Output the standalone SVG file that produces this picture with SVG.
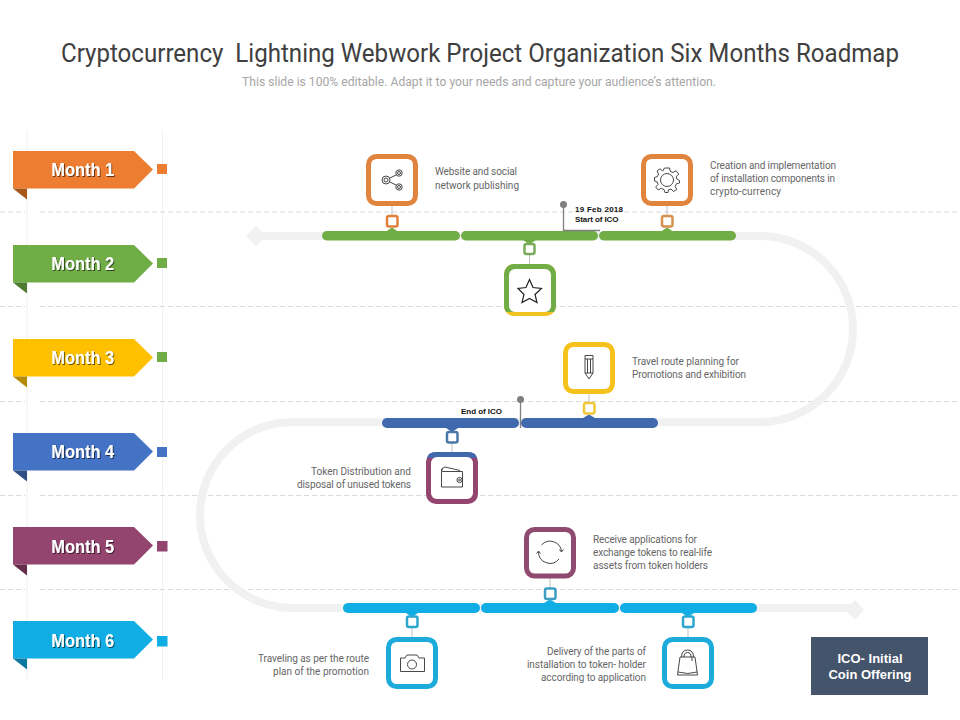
<svg xmlns="http://www.w3.org/2000/svg" width="960" height="720" viewBox="0 0 960 720">
<style>
.guide{stroke:#d9d9d9;stroke-width:1;stroke-dasharray:5 3;fill:none}
.vline{stroke:#f0f0f0;stroke-width:1;fill:none}
.road{stroke:#f1f1f1;stroke-width:8;fill:none}
.month{font:bold 18px "Liberation Sans",Arial,sans-serif;fill:#fff;text-anchor:middle;filter:url(#sh)}
.body{font:10px Roboto,"Liberation Sans",sans-serif;fill:#666}
.end{text-anchor:end}
.date{font:bold 8px "Liberation Sans",Arial,sans-serif;fill:#111}
.box{fill:#fff;stroke-width:5}
.sq{fill:#fff;stroke-width:2.5}
.link{stroke:#bfbfbf;stroke-width:1}
.ico{fill:none;stroke:#333;stroke-width:.9}
.pin{stroke:#7f7f7f;stroke-width:1.3;fill:none}
</style>
<defs>
<filter id="sh" x="-20%" y="-20%" width="140%" height="140%"><feDropShadow dx="1" dy="1" stdDeviation=".6" flood-color="#000" flood-opacity=".6"/></filter>
<path id="flag" d="M13 0H134L153 18.500L134 37.500H13Z"/>
<path id="fold" d="M13 37.500H27V48.500Z"/>
</defs>
<rect width="960" height="720" fill="#fff"/>
<g id="title">
<text x="480" y="62" text-anchor="middle" textLength="838" lengthAdjust="spacingAndGlyphs" style="font:25px Roboto,'Liberation Sans',sans-serif;fill:#404040;white-space:pre">Cryptocurrency  Lightning Webwork Project Organization Six Months Roadmap</text>
<text x="479" y="86" text-anchor="middle" textLength="474" lengthAdjust="spacingAndGlyphs" style="font:12px Roboto,'Liberation Sans',sans-serif;fill:#a6a6a6">This slide is 100% editable. Adapt it to your needs and capture your audience’s attention.</text>
</g>
<g id="guides">
<path class="vline" d="M27 130V680M162.500 130V680"/>
<path class="guide" d="M0 212H25M40 212H960M0 306.500H25M40 306.500H960M0 401.500H25M40 401.500H960M0 495.500H25M40 495.500H960M0 589.500H25M40 589.500H960"/>
</g>
<g id="connectors">
<path class="road" d="M258 236H760A93 93 0 0 1 760 422H293A93 93 0 0 0 293 608H853"/>
<path d="M246 236L256 226L266 236L256 246Z" fill="#f1f1f1"/>
<path d="M845 610L855 600L864 610L855 620Z" fill="#f1f1f1"/>
<path class="link" d="M392 206V216M529.500 254V264M667 206V216M589 394V403M452 442V452M550 578V588M412 627V637M688 627V637"/>
<g fill="#70ad47">
<rect x="322" y="231" width="138" height="9.500" rx="4.700"/>
<rect x="461" y="231" width="137" height="9.500" rx="4.700"/>
<rect x="599" y="231" width="137" height="9.500" rx="4.700"/>
<path d="M386 231.500L392 227.500L398 231.500ZM523 240L529.500 244.500L536 240ZM661 231.500L667 227.500L673 231.500Z"/>
</g>
<g fill="#4169ae">
<rect x="382" y="418" width="137" height="10" rx="5"/>
<rect x="521" y="418" width="137" height="10" rx="5"/>
<path d="M446 428L452 432L458 428ZM583 418L589 414.500L595 418Z"/>
</g>
<g fill="#10aee4">
<rect x="343" y="603" width="137" height="10" rx="5"/>
<rect x="481" y="603" width="138" height="10" rx="5"/>
<rect x="620" y="603" width="137" height="10" rx="5"/>
<path d="M544 603L550 599.500L556 603ZM406 613L412 617L418 613ZM682 613L688 617L694 613Z"/>
</g>
</g>
<g id="month1" transform="translate(0,151)"><use href="#flag" fill="#ed7d31"/><use href="#fold" fill="#a9561b"/><rect x="157" y="13" width="10" height="10" fill="#ed7d31"/><text class="month" x="82.700" y="25" textLength="63" lengthAdjust="spacingAndGlyphs">Month 1</text></g>
<g id="month2" transform="translate(0,245)"><use href="#flag" fill="#70ad47"/><use href="#fold" fill="#4f7a32"/><rect x="157" y="13" width="10" height="10" fill="#70ad47"/><text class="month" x="82.700" y="25" textLength="63" lengthAdjust="spacingAndGlyphs">Month 2</text></g>
<g id="month3" transform="translate(0,339)"><use href="#flag" fill="#ffc000"/><use href="#fold" fill="#b58a0b"/><rect x="157" y="13" width="10" height="10" fill="#70ad47"/><text class="month" x="82.700" y="25" textLength="63" lengthAdjust="spacingAndGlyphs">Month 3</text></g>
<g id="month4" transform="translate(0,433)"><use href="#flag" fill="#4472c4"/><use href="#fold" fill="#2f4f86"/><rect x="157" y="14" width="10" height="10" fill="#4472c4"/><text class="month" x="82.700" y="25" textLength="63" lengthAdjust="spacingAndGlyphs">Month 4</text></g>
<g id="month5" transform="translate(0,527)"><use href="#flag" fill="#93446f"/><use href="#fold" fill="#642d4b"/><rect x="157" y="14" width="10.500" height="10.500" fill="#93446f"/><text class="month" x="82.700" y="25.500" textLength="63" lengthAdjust="spacingAndGlyphs">Month 5</text></g>
<g id="month6" transform="translate(0,621)"><use href="#flag" fill="#10aee4"/><use href="#fold" fill="#0b78a0"/><rect x="157" y="15" width="10.500" height="10.500" fill="#10aee4"/><text class="month" x="82.700" y="25.500" textLength="63" lengthAdjust="spacingAndGlyphs">Month 6</text></g>

<g id="node-share">
<rect class="sq" x="387" y="216" width="10.500" height="10.500" rx="2" stroke="#e0803a"/>
<rect class="box" x="368.500" y="156.500" width="47" height="47" rx="8" stroke="#e0843e"/>
<g class="ico"><circle cx="386" cy="180" r="4"/><circle cx="386" cy="180" r="2"/><circle cx="399" cy="173" r="3.200"/><circle cx="399" cy="173" r="1.500"/><circle cx="399" cy="187" r="3.200"/><circle cx="399" cy="187" r="1.500"/><path d="M390 178L396 175M390 182L396 185"/></g>
<text class="body" x="435" y="175" textLength="82">Website and social</text><text class="body" x="435" y="188.500" textLength="84">network publishing</text>
</g>
<g id="node-gear">
<rect class="sq" x="662" y="216" width="10.500" height="10.500" rx="2" stroke="#d9924e"/>
<rect class="box" x="643.500" y="156.500" width="47" height="47" rx="8" stroke="#e0843e"/>
<g class="ico" transform="translate(667,180)"><circle r="6.500"/><path d="M-2.500-12H2.500L3.300-8.600L6-7.500L9-9.300L11.800-5.800L9.300-3.500L9.800-1L12.500 0.500V3L9.400 3.800L8.200 6.600L9.800 9.400L6.500 11.500L4 9L1.500 9.800L1 12.500H-2L-3 9.500L-5.800 8.300L-8.800 10L-11.300 7L-9 4.500L-9.700 2L-12.500 1V-2.500L-9.500-3.500L-8.500-6L-10-9L-7-11.200L-4.300-9Z"/></g>
<text class="body" x="710" y="168.500" textLength="126">Creation and implementation</text><text class="body" x="710" y="181.500" textLength="125">of installation components in</text><text class="body" x="710" y="194.500" textLength="71">crypto-currency</text>
</g>
<g id="node-star">
<rect class="sq" x="524.500" y="244" width="10" height="10" rx="2" stroke="#7aab5a"/>
<rect x="504" y="264" width="52" height="52" rx="10" fill="#f2c21f"/>
<path d="M514 264H546A10 10 0 0 1 556 274V306Q556 309 554 312H506Q504 309 504 306V274A10 10 0 0 1 514 264Z" fill="#70ad47"/>
<rect x="509" y="269" width="42" height="43" rx="6" fill="#fff"/>
<path class="ico" d="M529.500 279.500L533 287.500L541.500 288.500L535 294.500L537 302.500L529.500 298.500L522 302.500L524 294.500L518 288.500L526 287.500Z" style="stroke-width:1.200;stroke:#222"/>
</g>
<g id="ico-start">
<path class="pin" d="M563.500 205V230.500H600"/><circle cx="563.500" cy="204.500" r="3.500" fill="#7f7f7f"/>
<text class="date" x="575" y="211.500" textLength="48">19 Feb 2018</text><text class="date" x="575" y="222" textLength="43.500">Start of ICO</text>
</g>
<g id="node-pencil">
<rect class="sq" x="584" y="403" width="10.500" height="10.500" rx="2" stroke="#f0c93a"/>
<rect class="box" x="565.500" y="344.500" width="47" height="47" rx="8" stroke="#f5c21b"/>
<g class="ico"><path d="M585 355.500H593V373L589 379L585 373ZM585 359H593M585 373H593M587.500 359V373M590.500 359V373"/></g>
<text class="body" x="632" y="364.500" textLength="107">Travel route planning for</text><text class="body" x="632" y="377.500" textLength="114">Promotions and exhibition</text>
</g>
<g id="ico-end">
<path class="pin" d="M520.500 400V428"/><circle cx="520.500" cy="399.500" r="3.500" fill="#7f7f7f"/>
<text class="date" x="461" y="414" textLength="41">End of ICO</text>
</g>
<g id="node-wallet">
<rect class="sq" x="447" y="432" width="10.500" height="10.500" rx="2" stroke="#4a79a8"/>
<rect x="426" y="452" width="52" height="52" rx="10" fill="#93446f"/>
<path d="M427 458Q428 452 436 452H468Q476 452 477 458Z" fill="#4169ae"/>
<rect x="431" y="457" width="42" height="42" rx="6" fill="#fff"/>
<g class="ico"><path d="M441.500 472V487H462.500V471.500H441.500L442 468.500L445 467L460 470.500M441.500 471Q441 469 443 469"/><circle cx="459.500" cy="480" r="2.600"/><circle cx="459.500" cy="480" r=".9"/></g>
<text class="body end" x="411" y="474.500" textLength="100">Token Distribution and</text><text class="body end" x="411" y="487.500" textLength="114">disposal of unused tokens</text>
</g>
<g id="node-sync">
<rect class="sq" x="545" y="588.500" width="10.500" height="10.500" rx="2" stroke="#3c9ec4"/>
<rect class="box" x="526.500" y="529.500" width="47" height="46.500" rx="8" stroke="#8e4a6f"/>
<g class="ico"><path d="M541.500 545A11.500 11.500 0 0 1 561.500 551.500M559.500 549.500L561.500 552L563.500 549.500M559 559A11.500 11.500 0 0 1 538.500 552M536.500 553.500L538.500 551L540.500 553.500"/></g>
<text class="body" x="593" y="542.500" textLength="104">Receive applications for</text><text class="body" x="593" y="555.500" textLength="119">exchange tokens to real-life</text><text class="body" x="593" y="568.500" textLength="115">assets from token holders</text>
</g>
<g id="node-camera">
<rect class="sq" x="407" y="616.500" width="10.500" height="10.500" rx="2" stroke="#2ba6cf"/>
<rect class="box" x="388.500" y="639.500" width="47" height="47" rx="8" stroke="#1dabdc"/>
<g class="ico"><path d="M400.500 671.500V658H405L407 655H417L419 658H424.500V671.500Z"/><circle cx="412" cy="664.500" r="4.500"/></g>
<text class="body end" x="369" y="661.500" textLength="111">Traveling as per the route</text><text class="body end" x="369" y="674.500" textLength="96">plan of the promotion</text>
</g>
<g id="node-bag">
<rect class="sq" x="683" y="616.500" width="10.500" height="10.500" rx="2" stroke="#2ba6cf"/>
<rect class="box" x="664.500" y="639.500" width="47" height="47" rx="8" stroke="#1dabdc"/>
<g class="ico"><path d="M680 657L677.500 675H697.500L695 657ZM681.500 657Q681.500 650 687.500 650Q693.500 650 693.500 657M684 657Q684 652.500 687.500 652.500Q691 652.500 691 657M678 672Q688 675 697 672M692 657V661"/></g>
<text class="body end" x="646" y="654.500" textLength="99">Delivery of the parts of</text><text class="body end" x="646" y="667.500" textLength="119">installation to token- holder</text><text class="body end" x="646" y="680.500" textLength="105">according to application</text>
</g>
<g id="legend">
<rect x="811" y="637" width="117" height="58" fill="#44546a"/>
<text x="870" y="663" text-anchor="middle" style="font:bold 13px 'Liberation Sans',Arial,sans-serif;fill:#fff">ICO- Initial</text>
<text x="870" y="679" text-anchor="middle" style="font:bold 13px 'Liberation Sans',Arial,sans-serif;fill:#fff">Coin Offering</text>
</g>
</svg>
